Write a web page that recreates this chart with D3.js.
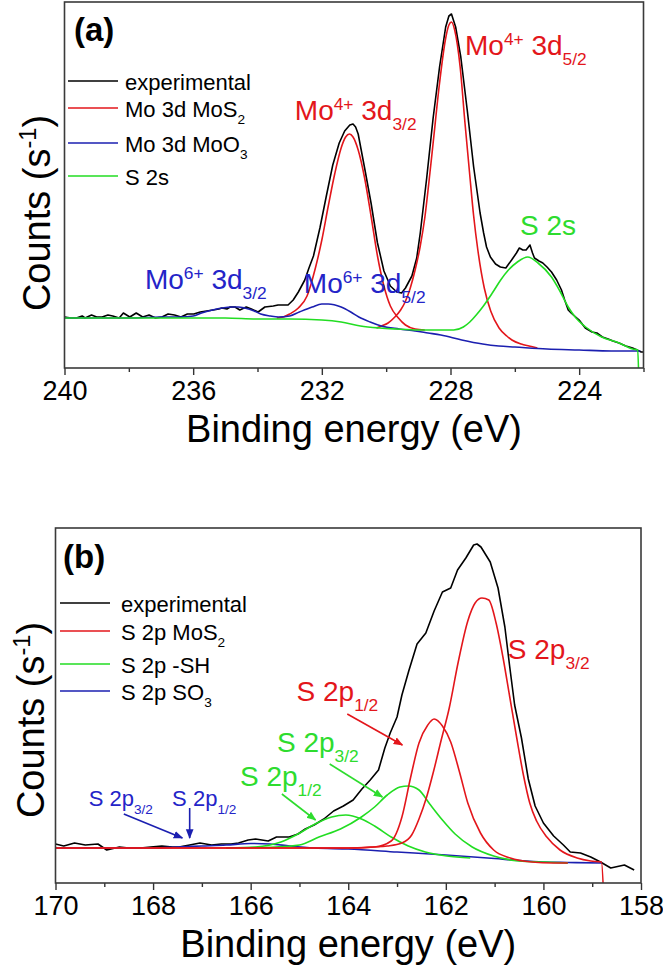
<!DOCTYPE html>
<html><head><meta charset="utf-8">
<script src="https://cdn.jsdelivr.net/npm/d3@7"></script>
<style>
body{margin:0;background:#fff}
svg text{font-family:"Liberation Sans",Arial,Helvetica,sans-serif;white-space:pre}
</style>
</head><body>
<svg id="c" width="663" height="968"></svg>
<script>
// ---------------- Panel (a): Mo 3d / S 2s (binding energy eV, counts a.u.) ----------------
const aMajorTicks = [240, 236, 232, 228, 224];
const aMinorTicks = [238, 234, 230, 226, 222];
const aExperimental = [[240.00,51],[239.80,50],[239.63,50],[239.45,52],[239.36,50],[239.16,53],[239.00,51],[238.83,51],[238.65,53],[238.50,52],[238.30,50],[238.17,55],[237.97,51],[237.77,55],[237.57,51],[237.37,53],[237.17,50],[236.97,51],[236.78,54],[236.58,53],[236.38,51],[236.18,54],[235.98,54],[235.78,56],[235.58,57],[235.38,58],[235.20,59],[235.11,60],[234.95,59],[234.85,61],[234.70,61],[234.55,58],[234.35,61],[234.19,59],[233.98,56],[233.77,61],[233.51,62],[233.36,63],[233.05,63],[232.89,68],[232.73,76],[232.53,88],[232.40,100],[232.26,112],[232.06,140],[231.86,172],[231.66,203],[231.46,225],[231.29,237],[231.13,243],[231.03,244],[230.95,241],[230.87,234],[230.67,200],[230.47,165],[230.27,125],[230.07,97],[229.87,82],[229.67,76],[229.52,75],[229.40,80],[229.20,92],[229.05,110],[228.94,135],[228.74,190],[228.54,250],[228.34,301],[228.15,341],[228.05,352],[227.97,354],[227.84,341],[227.68,311],[227.48,258],[227.28,201],[227.08,155],[226.97,135],[226.88,121],[226.76,111],[226.60,104],[226.45,101],[226.28,100],[226.10,108],[225.95,115],[225.86,120],[225.75,118],[225.65,118],[225.53,123],[225.45,115],[225.39,110],[225.25,107],[225.13,105],[225.00,101],[224.86,96],[224.70,88],[224.55,78],[224.45,68],[224.34,58],[224.25,55],[224.18,53],[224.00,48],[223.81,40],[223.60,36],[223.45,35],[223.28,31],[223.10,29],[222.95,27],[222.76,25],[222.55,22],[222.34,20],[222.20,18],[222.07,16],[222.00,16]];
const aMoS2_32 = [[233.40,50],[233.20,51],[233.00,54],[232.73,60],[232.46,72],[232.20,100],[232.00,128],[231.80,162],[231.60,194],[231.40,220],[231.26,231],[231.14,234],[231.03,231],[230.87,218],[230.67,190],[230.47,152],[230.27,112],[230.07,82],[229.87,62],[229.62,50],[229.40,43],[229.10,39],[228.80,38]];
const aMoS2_52 = [[230.30,40],[230.14,42],[229.94,45],[229.73,51],[229.55,58],[229.41,66],[229.25,80],[229.10,98],[228.94,122],[228.80,150],[228.64,195],[228.54,225],[228.34,285],[228.16,328],[228.05,343],[227.97,346],[227.87,338],[227.70,301],[227.55,245],[227.41,196],[227.28,152],[227.15,118],[226.95,80],[226.75,57],[226.49,40],[226.25,32],[226.09,28],[225.80,24],[225.56,22],[225.30,20]];
const aMoO3 = [[240.0,50],[239.0,50],[238.0,50],[237.0,51],[236.4,51],[236.0,52],[235.74,55],[235.4,58],[235.1,60],[234.8,61],[234.6,61],[234.4,60],[234.1,57],[233.9,54],[233.6,52],[233.35,51],[233.0,52],[232.7,56],[232.3,61],[232.0,64],[231.8,64],[231.4,61],[231.1,56],[230.85,51],[230.5,46],[230.15,42],[229.6,39],[229.1,37],[228.7,35],[228.3,33],[227.65,28],[227.0,24],[226.5,22],[226.0,21],[225.0,19],[224.0,18],[223.0,17],[222.1,17]];
const aS2s = [[240.0,50],[239.0,50],[238.0,50],[237.0,50],[236.0,50],[235.0,50],[234.0,49],[233.0,49],[232.0,48],[231.4,46],[230.8,42],[230.2,40],[229.7,39],[229.0,38],[228.4,38],[227.9,38],[227.6,41],[227.4,46],[227.2,53],[227.0,61],[226.7,75],[226.44,88],[226.2,98],[225.92,106],[225.6,111],[225.28,105],[224.86,91],[224.6,77],[224.34,61],[224.1,50],[223.8,41],[223.3,31],[222.76,25],[222.34,19],[222.18,18],[222.14,-20]];

// ---------------- Panel (b): S 2p ----------------
const bMajorTicks = [170, 168, 166, 164, 162, 160, 158];
const bMinorTicks = [169, 167, 165, 163, 161, 159];
const bExperimental = [[170.00,39],[169.83,37],[169.61,40],[169.39,38],[169.13,39],[168.95,33],[168.69,36],[168.50,35],[168.26,35],[168.05,36],[167.82,37],[167.60,36],[167.47,36],[167.25,38],[167.04,40],[166.80,38],[166.60,39],[166.40,39],[166.25,40],[166.05,43],[165.90,44],[165.64,42],[165.47,46],[165.21,46],[165.03,49],[164.88,54],[164.70,58],[164.50,64],[164.30,72],[164.10,77],[163.90,83],[163.72,94],[163.55,103],[163.38,113],[163.25,135],[163.14,150],[163.00,166],[162.90,188],[162.76,212],[162.59,239],[162.41,250],[162.24,272],[162.07,291],[161.90,295],[161.76,313],[161.59,325],[161.43,338],[161.36,339],[161.28,336],[161.09,321],[160.93,295],[160.79,256],[160.69,216],[160.59,178],[160.45,145],[160.31,104],[160.17,77],[160.00,60],[159.79,47],[159.59,38],[159.45,31],[159.24,30],[159.03,26],[158.83,21],[158.62,15],[158.34,18],[158.14,13]];
const bMoS2_32 = [[170.0,35],[168.0,35],[166.0,35],[165.0,35],[164.0,35],[163.5,36],[163.2,37],[162.90,40],[162.70,48],[162.55,64],[162.40,85],[162.25,112],[162.10,142],[161.93,175],[161.75,220],[161.55,262],[161.40,280],[161.26,285],[161.12,283],[160.97,260],[160.83,226],[160.69,186],[160.55,146],[160.41,108],[160.28,80],[160.14,62],[159.93,46],[159.66,33],[159.31,25],[159.03,22],[158.81,21],[158.76,-20]];
const bMoS2_12 = [[170.0,35],[166.0,35],[164.0,35],[163.46,36],[163.12,42],[162.90,66],[162.72,106],[162.55,140],[162.37,158],[162.24,164],[162.07,157],[161.90,141],[161.72,111],[161.55,80],[161.29,50],[161.02,33],[160.68,25],[160.24,21],[159.80,20],[159.50,20]];
const bSH_12 = [[166.5,35],[165.9,36],[165.38,41],[165.03,49],[164.68,59],[164.34,66],[164.05,68],[163.73,64],[163.46,57],[163.12,46],[162.77,37],[162.42,31],[161.98,27],[161.50,25]];
const bSH_32 = [[166.5,35],[165.5,36],[165.0,38],[164.6,46],[164.16,54],[163.73,66],[163.46,76],[163.20,88],[162.94,96],[162.77,97],[162.55,93],[162.33,79],[162.07,63],[161.81,49],[161.46,36],[161.02,27],[160.50,22],[159.98,21],[159.50,20]];
const bSO3 = [[170.0,35],[169.0,35],[168.0,35],[167.5,36],[167.0,37],[166.5,38],[166.0,39.5],[165.6,39],[165.2,37],[164.7,35],[164.0,34],[163.0,31],[162.0,28],[161.0,24.5],[160.5,22.5],[160.0,21],[159.5,20.5],[158.8,20]];

const BLACK = "#000000", RED = "#e3161b", BLUE = "#1b1fb0", GREEN = "#22dd22";
const TXT_BLUE = "#2424c8", TXT_GREEN = "#2edc2e";

const svg = d3.select("#c");
let clipId = 0;

function rich(textSel, parts, size, shift) {
  let cur = 0;
  parts.forEach(([t, k]) => {
    const target = k === 1 ? -size * shift : (k === -1 ? size * shift : 0);
    textSel.append("tspan").attr("dy", (target - cur).toFixed(2))
      .attr("font-size", k ? size * 0.62 : size).text(t);
    cur = target;
  });
}

function panel(cfg) {
  const x = d3.scaleLinear().domain(cfg.xDomain).range([cfg.left, cfg.right]);
  const y = d3.scaleLinear().domain(cfg.yDomain).range([cfg.bottom, cfg.top]);
  const g = svg.append("g");
  const id = "clip" + (clipId++);
  g.append("clipPath").attr("id", id).append("rect")
    .attr("x", cfg.left).attr("y", cfg.top).attr("width", cfg.right - cfg.left).attr("height", cfg.bottom - cfg.top);

  // minor ticks (no labels)
  const minorAxis = d3.axisBottom(x).tickValues(cfg.minor).tickSize(4).tickSizeOuter(0);
  const gm = g.append("g").attr("transform", `translate(0,${cfg.bottom})`).call(minorAxis);
  gm.select(".domain").remove();
  gm.selectAll(".tick text").remove();
  // major ticks
  const majorAxis = d3.axisBottom(x).tickValues(cfg.major).tickSize(7).tickSizeOuter(0).tickPadding(6).tickFormat(d3.format("d"));
  const ga = g.append("g").attr("transform", `translate(0,${cfg.bottom})`).call(majorAxis);
  ga.select(".domain").remove();
  g.selectAll(".tick line").attr("stroke", "#333").attr("stroke-width", 1.4);
  ga.selectAll(".tick text").attr("font-size", 27).attr("fill", "#000")
    .attr("font-family", '"Liberation Sans",Arial,sans-serif');

  // curves
  const cg = g.append("g").attr("clip-path", `url(#${id})`);
  cfg.series.forEach(s => {
    const line = d3.line().x(d => x(d[0])).y(d => y(d[1]))
      .curve(s.smooth ? d3.curveMonotoneX : d3.curveLinear);
    cg.append("path").datum(s.data).attr("d", line).attr("fill", "none")
      .attr("stroke", s.color).attr("stroke-width", 1.6).attr("stroke-linejoin", "round");
  });

  // frame
  g.append("rect").attr("x", cfg.left).attr("y", cfg.top)
    .attr("width", cfg.right - cfg.left).attr("height", cfg.bottom - cfg.top)
    .attr("fill", "none").attr("stroke", "#3a3a3a").attr("stroke-width", 1.6);

  // panel tag
  g.append("text").attr("x", cfg.tag[1]).attr("y", cfg.tag[2])
    .attr("font-size", 33).attr("font-weight", "bold").text(cfg.tag[0]);

  // legend
  cfg.legend.rows.forEach(r => {
    const yy = r.y;
    g.append("line").attr("x1", cfg.legend.x1).attr("x2", cfg.legend.x2).attr("y1", yy).attr("y2", yy)
      .attr("stroke", r.color).attr("stroke-width", 1.6);
    const t = g.append("text").attr("x", cfg.legend.tx).attr("y", yy + 9).attr("fill", "#000");
    rich(t, r.parts, 22, 0.3);
  });

  // arrows
  (cfg.arrows || []).forEach(a => {
    g.append("line").attr("x1", x(a.from[0])).attr("y1", y(a.from[1]))
      .attr("x2", x(a.to[0])).attr("y2", y(a.to[1]))
      .attr("stroke", a.color).attr("stroke-width", 1.6)
      .attr("marker-end", `url(#${a.marker})`);
  });

  // annotations
  cfg.notes.forEach(n => {
    const t = g.append("text").attr("x", x(n.at[0])).attr("y", y(n.at[1])).attr("fill", n.color);
    rich(t, n.parts, n.size || 28, 0.36);
  });

  // axis titles
  g.append("text").attr("x", (cfg.left + cfg.right) / 2).attr("y", cfg.xTitleY)
    .attr("text-anchor", "middle").attr("font-size", 38).attr("fill", "#000").text("Binding energy (eV)");
  const yt = g.append("text").attr("text-anchor", "middle")
    .attr("transform", `translate(${cfg.yTitle[0]},${cfg.yTitle[1]}) rotate(-90)`).attr("fill", "#000");
  rich(yt, [["Counts (s", 0], ["-1", 1], [")", 0]], 38, 0.36);
}

// arrow markers
const defs = svg.append("defs");
[["arrRed", RED], ["arrGreen", TXT_GREEN], ["arrBlue", BLUE]].forEach(([id, c]) => {
  defs.append("marker").attr("id", id).attr("viewBox", "0 0 10 10").attr("refX", 9).attr("refY", 5)
    .attr("markerWidth", 6).attr("markerHeight", 6).attr("orient", "auto").attr("markerUnits", "strokeWidth")
    .append("path").attr("d", "M0,1 L10,5 L0,9 Z").attr("fill", c);
});

panel({
  left: 64.5, right: 643.5, top: 2, bottom: 368,
  xDomain: [240, 222], yDomain: [0, 366],
  major: aMajorTicks, minor: aMinorTicks,
  series: [
    {data: aExperimental, color: BLACK, smooth: false},
    {data: aMoS2_32, color: RED, smooth: true},
    {data: aMoS2_52, color: RED, smooth: true},
    {data: aMoO3, color: BLUE, smooth: true},
    {data: aS2s, color: GREEN, smooth: true}
  ],
  tag: ["(a)", 74, 41],
  legend: {x1: 68, x2: 118, tx: 125, rows: [
    {y: 81, color: BLACK, parts: [["experimental", 0]]},
    {y: 108, color: RED, parts: [["Mo 3d MoS", 0], ["2", -1]]},
    {y: 143, color: BLUE, parts: [["Mo 3d MoO", 0], ["3", -1]]},
    {y: 176, color: GREEN, parts: [["S 2s", 0]]}
  ]},
  notes: [
    {at: [227.55, 313], color: RED, parts: [["Mo", 0], ["4+", 1], [" 3d", 0], ["5/2", -1]]},
    {at: [232.84, 248], color: RED, parts: [["Mo", 0], ["4+", 1], [" 3d", 0], ["3/2", -1]]},
    {at: [237.50, 79], color: TXT_BLUE, parts: [["Mo", 0], ["6+", 1], [" 3d", 0], ["3/2", -1]]},
    {at: [232.56, 75], color: TXT_BLUE, parts: [["Mo", 0], ["6+", 1], [" 3d", 0], ["5/2", -1]]},
    {at: [225.84, 133], color: TXT_GREEN, parts: [["S 2s", 0]]}
  ],
  xTitleY: 442,
  yTitle: [50, 213]
});

panel({
  left: 55.5, right: 641, top: 528, bottom: 883,
  xDomain: [170, 158], yDomain: [0, 355],
  major: bMajorTicks, minor: bMinorTicks,
  series: [
    {data: bExperimental, color: BLACK, smooth: false},
    {data: bSO3, color: BLUE, smooth: true},
    {data: bSH_12, color: GREEN, smooth: true},
    {data: bSH_32, color: GREEN, smooth: true},
    {data: bMoS2_12, color: RED, smooth: true},
    {data: bMoS2_32, color: RED, smooth: true}
  ],
  tag: ["(b)", 63, 568],
  legend: {x1: 60, x2: 110, tx: 121, rows: [
    {y: 603, color: BLACK, parts: [["experimental", 0]]},
    {y: 631, color: RED, parts: [["S 2p MoS", 0], ["2", -1]]},
    {y: 664, color: GREEN, parts: [["S 2p -SH", 0]]},
    {y: 691, color: BLUE, parts: [["S 2p SO", 0], ["3", -1]]}
  ]},
  arrows: [
    {from: [164.02, 169], to: [162.89, 138], color: RED, marker: "arrRed"},
    {from: [164.38, 119], to: [163.30, 86], color: TXT_GREEN, marker: "arrGreen"},
    {from: [165.36, 89], to: [164.67, 63], color: TXT_GREEN, marker: "arrGreen"},
    {from: [168.60, 69], to: [167.40, 45], color: BLUE, marker: "arrBlue"},
    {from: [167.25, 75], to: [167.25, 45], color: BLUE, marker: "arrBlue"}
  ],
  notes: [
    {at: [160.73, 224], color: RED, parts: [["S 2p", 0], ["3/2", -1]]},
    {at: [165.06, 182], color: RED, parts: [["S 2p", 0], ["1/2", -1]]},
    {at: [165.46, 131], color: TXT_GREEN, parts: [["S 2p", 0], ["3/2", -1]]},
    {at: [166.22, 97], color: TXT_GREEN, parts: [["S 2p", 0], ["1/2", -1]]},
    {at: [169.32, 77], color: TXT_BLUE, size: 22, parts: [["S 2p", 0], ["3/2", -1]]},
    {at: [167.61, 77], color: TXT_BLUE, size: 22, parts: [["S 2p", 0], ["1/2", -1]]}
  ],
  xTitleY: 957,
  yTitle: [44, 720]
});
</script>
</body></html>
